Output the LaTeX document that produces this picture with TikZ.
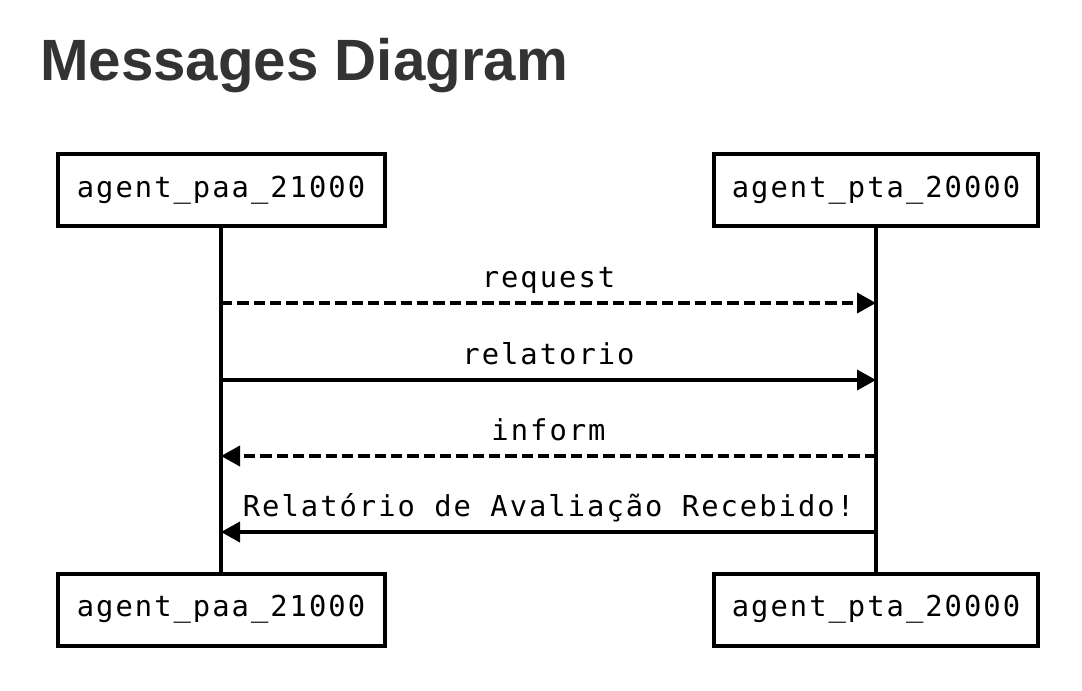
\documentclass[tikz,border=0pt]{standalone}
\usepackage{fontspec}
\setmainfont{Liberation Sans}
\newfontfamily\monofont[LetterSpace=7.0]{DejaVu Sans Mono}
\usetikzlibrary{arrows.meta}
\definecolor{titlegray}{HTML}{333333}
\tikzset{
  px/.style={x=0.75pt,y=-0.75pt},
  actor/.style={draw=black, line width=3pt, fill=white, minimum width=245.25pt, minimum height=54pt, inner sep=0pt, font=\monofont\fontsize{21.6}{25}\selectfont},
  lifeline/.style={draw=black, line width=3pt},
  msg/.style={draw=black, line width=2.8pt, -{Triangle[length=14.25pt,width=15pt]}},
  async/.style={msg, dash pattern=on 8.5pt off 3.75pt},
  lbl/.style={midway, anchor=base, yshift=12pt, inner sep=0pt, font=\monofont\fontsize{21.6}{25}\selectfont}
}
\begin{document}
\begin{tikzpicture}[px]
\useasboundingbox (0,0) rectangle (1082,690);
\node[anchor=base west, inner sep=0pt, text=titlegray, font=\bfseries\fontsize{43.7}{50}\selectfont] (title) at (40,80) {Messages Diagram};
\node[actor] (ta) at (221,190) {agent\_paa\_21000};
\node[actor, minimum width=243pt] (tb) at (876,190) {agent\_pta\_20000};
\node[actor] (ba) at (221,609.5) {agent\_paa\_21000};
\node[actor, minimum width=243pt] (bb) at (876,609.5) {agent\_pta\_20000};
\draw[lifeline] (ta.south) -- (ba.north);
\draw[lifeline] (tb.south) -- (bb.north);
\coordinate (a1) at (221,303); \coordinate (b1) at (876,303);
\coordinate (a2) at (221,380); \coordinate (b2) at (876,380);
\coordinate (a3) at (221,456); \coordinate (b3) at (876,456);
\coordinate (a4) at (221,532); \coordinate (b4) at (876,532);
\draw[async] (a1) -- node[lbl] {request} (b1);
\draw[msg] (a2) -- node[lbl] {relatorio} (b2);
\draw[async] (b3) -- node[lbl] {inform} (a3);
\draw[msg] (b4) -- node[lbl] {Relatório de Avaliação Recebido!} (a4);
\end{tikzpicture}
\end{document}
